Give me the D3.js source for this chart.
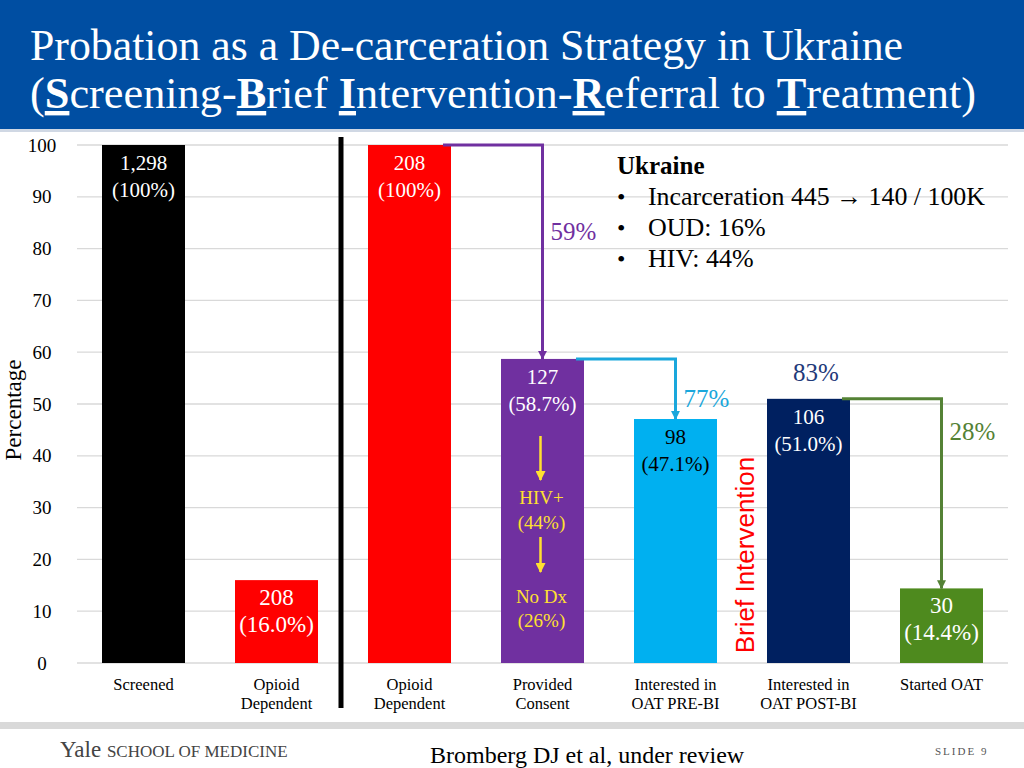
<!DOCTYPE html>
<html><head><meta charset="utf-8">
<script src="https://cdn.jsdelivr.net/npm/d3@7"></script>
<style>body{margin:0;background:#fff}svg{display:block}</style>
</head><body>
<script>
const categoryKeys = ["screened","opioid1","opioid2","consent","preBI","postBI","started"];
const categoryLabels = [["Screened"],["Opioid","Dependent"],["Opioid","Dependent"],["Provided","Consent"],["Interested in","OAT PRE-BI"],["Interested in","OAT POST-BI"],["Started OAT"]];
const percentValues = [100, 16.0, 100, 58.7, 47.1, 51.0, 14.4];
const countLabels = ["1,298","208","208","127","98","106","30"];
const pctLabels = ["(100%)","(16.0%)","(100%)","(58.7%)","(47.1%)","(51.0%)","(14.4%)"];
const barColors = ["#000000","#ff0000","#ff0000","#7030a0","#00b0f0","#002060","#4e8a1e"];
const labelColors = ["#fff","#fff","#fff","#fff","#000","#fff","#fff"];
const yTicks = [0,10,20,30,40,50,60,70,80,90,100];
const transitions = [{from:2,to:3,label:"59%",color:"#7030a0"},{from:3,to:4,label:"77%",color:"#1aa7dc"},{from:5,to:6,label:"28%",color:"#548235"}];

const W=1024,H=768;
const svg=d3.select("body").append("svg").attr("width",W).attr("height",H);
const serif="Liberation Serif, DejaVu Serif, serif";

// title bar
svg.append("rect").attr("x",0).attr("y",0).attr("width",W).attr("height",129).attr("fill","#004ea2");
svg.append("rect").attr("x",0).attr("y",129).attr("width",W).attr("height",3).attr("fill","#d0d8e4");
svg.append("text").attr("x",30).attr("y",60).attr("fill","#fff").style("font-family",serif).attr("font-size",44)
  .attr("textLength",873).attr("lengthAdjust","spacingAndGlyphs")
  .text("Probation as a De-carceration Strategy in Ukraine");
const t2=svg.append("text").attr("x",30).attr("y",108).attr("fill","#fff").style("font-family",serif).attr("font-size",44)
  .attr("textLength",946).attr("lengthAdjust","spacingAndGlyphs");
[["(",0],["S",1],["creening-",0],["B",1],["rief ",0],["I",1],["ntervention-",0],["R",1],["eferral to ",0],["T",1],["reatment)",0]].forEach(([s,b])=>{
  const ts=t2.append("tspan").text(s);
  if(b) ts.attr("font-weight","bold").attr("text-decoration","underline");
});

const x=d3.scaleBand().domain(categoryKeys).range([77,1008]).paddingInner(0.376).paddingOuter(0.188);
const y=d3.scaleLinear().domain([0,100]).range([663,145]);

// gridlines
svg.append("g").selectAll("line").data(yTicks).join("line")
  .attr("x1",77).attr("x2",1008).attr("y1",d=>y(d)).attr("y2",d=>y(d))
  .attr("stroke","#d9d9d9").attr("stroke-width",1.3);

// y axis labels
const yAxis=d3.axisLeft(y).tickValues(yTicks).tickSize(0).tickPadding(0);
const ya=svg.append("g").attr("transform","translate(57,0)").call(yAxis);
ya.select(".domain").remove();
ya.selectAll("text").style("font-family",serif).attr("font-size",19).attr("fill","#000").attr("text-anchor","middle").attr("dx",-15);
svg.append("text").attr("transform","translate(21,410) rotate(-90)").attr("text-anchor","middle")
  .style("font-family",serif).attr("font-size",23).attr("fill","#000").text("Percentage");

// x axis labels
const xAxis=d3.axisBottom(x).tickSize(0).tickFormat(()=> "");
const xa=svg.append("g").attr("transform","translate(0,663)").call(xAxis);
xa.select(".domain").remove();
xa.selectAll(".tick").each(function(d,i){
  const t=d3.select(this).append("text").attr("text-anchor","middle").style("font-family",serif).attr("font-size",16.5).attr("fill","#000");
  categoryLabels[i].forEach((l,j)=>t.append("tspan").attr("x",0).attr("y",27+j*19).text(l));
});

// bars
svg.append("g").selectAll("rect").data(percentValues).join("rect")
  .attr("x",(d,i)=>x(categoryKeys[i])).attr("width",x.bandwidth())
  .attr("y",d=>y(d)).attr("height",d=>y(0)-y(d)).attr("fill",(d,i)=>barColors[i]);

// bar labels
percentValues.forEach((v,i)=>{
  const cx=x(categoryKeys[i])+x.bandwidth()/2;
  const fs=(i===1||i===6)?23:21;
  const t=svg.append("text").attr("text-anchor","middle").style("font-family",serif).attr("font-size",fs).attr("fill",labelColors[i]);
  t.append("tspan").attr("x",cx).attr("y",y(v)+25).text(countLabels[i]);
  t.append("tspan").attr("x",cx).attr("y",y(v)+52).text(pctLabels[i]);
});

// separator
svg.append("line").attr("x1",341).attr("x2",341).attr("y1",137).attr("y2",708).attr("stroke","#000").attr("stroke-width",5);

// transitions
const defs=svg.append("defs");
transitions.forEach((tr,k)=>{
  defs.append("marker").attr("id","ah"+k).attr("viewBox","0 0 10 10").attr("refX",9).attr("refY",5)
    .attr("markerWidth",3).attr("markerHeight",3).attr("orient","auto")
    .append("path").attr("d","M0,0L10,5L0,10z").attr("fill",tr.color);
  const x0=x(categoryKeys[tr.from])+x.bandwidth()-8;
  const y0=y(percentValues[tr.from]);
  const x1=x(categoryKeys[tr.to])+x.bandwidth()/2;
  const y1=y(percentValues[tr.to]);
  svg.append("path").attr("d",`M${x0},${y0}H${x1}V${y1}`).attr("fill","none")
    .attr("stroke",tr.color).attr("stroke-width",3).attr("marker-end","url(#ah"+k+")");
  svg.append("text").attr("x",x1+8).attr("y",(k===0?240:k===1?407:440)).style("font-family",serif).attr("font-size",25)
    .attr("fill",tr.color).text(tr.label);
});
svg.append("text").attr("x",816).attr("y",381).attr("text-anchor","middle").style("font-family",serif).attr("font-size",25)
  .attr("fill","#1f3a7a").text("83%");

// HIV annotations on purple bar
const pcx=x(categoryKeys[3])+x.bandwidth()/2;
const yel="#ffe030";
defs.append("marker").attr("id","yel").attr("viewBox","0 0 10 10").attr("refX",9).attr("refY",5)
  .attr("markerWidth",4).attr("markerHeight",4).attr("orient","auto")
  .append("path").attr("d","M0,0L10,5L0,10z").attr("fill",yel);
[[436,480],[537,572]].forEach(([a,b])=>svg.append("line").attr("x1",pcx-2).attr("x2",pcx-2).attr("y1",a).attr("y2",b)
  .attr("stroke",yel).attr("stroke-width",2.5).attr("marker-end","url(#yel)"));
[["HIV+",504],["(44%)",529],["No Dx",603],["(26%)",627]].forEach(([s,yy])=>
  svg.append("text").attr("x",pcx-1).attr("y",yy).attr("text-anchor","middle").style("font-family",serif).attr("font-size",19).attr("fill",yel).text(s));

// Brief Intervention
svg.append("text").attr("transform","translate(754,555) rotate(-90)").attr("text-anchor","middle")
  .style("font-family","Liberation Sans, Arial, sans-serif").attr("font-size",26).attr("fill","#ff0000").text("Brief Intervention");

// Ukraine box
svg.append("text").attr("x",617).attr("y",174).style("font-family",serif).attr("font-size",25).attr("font-weight","bold").attr("fill","#000").text("Ukraine");
["Incarceration 445 \u2192 140 / 100K","OUD: 16%","HIV: 44%"].forEach((s,i)=>{
  svg.append("text").attr("x",617).attr("y",205+i*31).style("font-family",serif).attr("font-size",24).attr("fill","#000").text("\u2022");
  const t=svg.append("text").attr("x",648).attr("y",205+i*31).style("font-family",serif).attr("font-size",26).attr("fill","#000").text(s);
  if(i===0) t.attr("textLength",337).attr("lengthAdjust","spacingAndGlyphs");
});

// footer
svg.append("rect").attr("x",0).attr("y",722).attr("width",W).attr("height",7).attr("fill","#d9d9d9");
const yt=svg.append("text").attr("x",60).attr("y",757).style("font-family",serif).attr("fill","#444");
yt.append("tspan").attr("font-size",23).text("Yale ");
yt.append("tspan").attr("font-size",17).text("SCHOOL OF MEDICINE");
svg.append("text").attr("x",430).attr("y",763).style("font-family",serif).attr("font-size",24).attr("fill","#000").text("Bromberg DJ et al, under review");
svg.append("text").attr("x",935).attr("y",755).style("font-family",serif).attr("font-size",11).attr("letter-spacing",2).attr("fill","#555").text("SLIDE 9");
</script>
</body></html>
